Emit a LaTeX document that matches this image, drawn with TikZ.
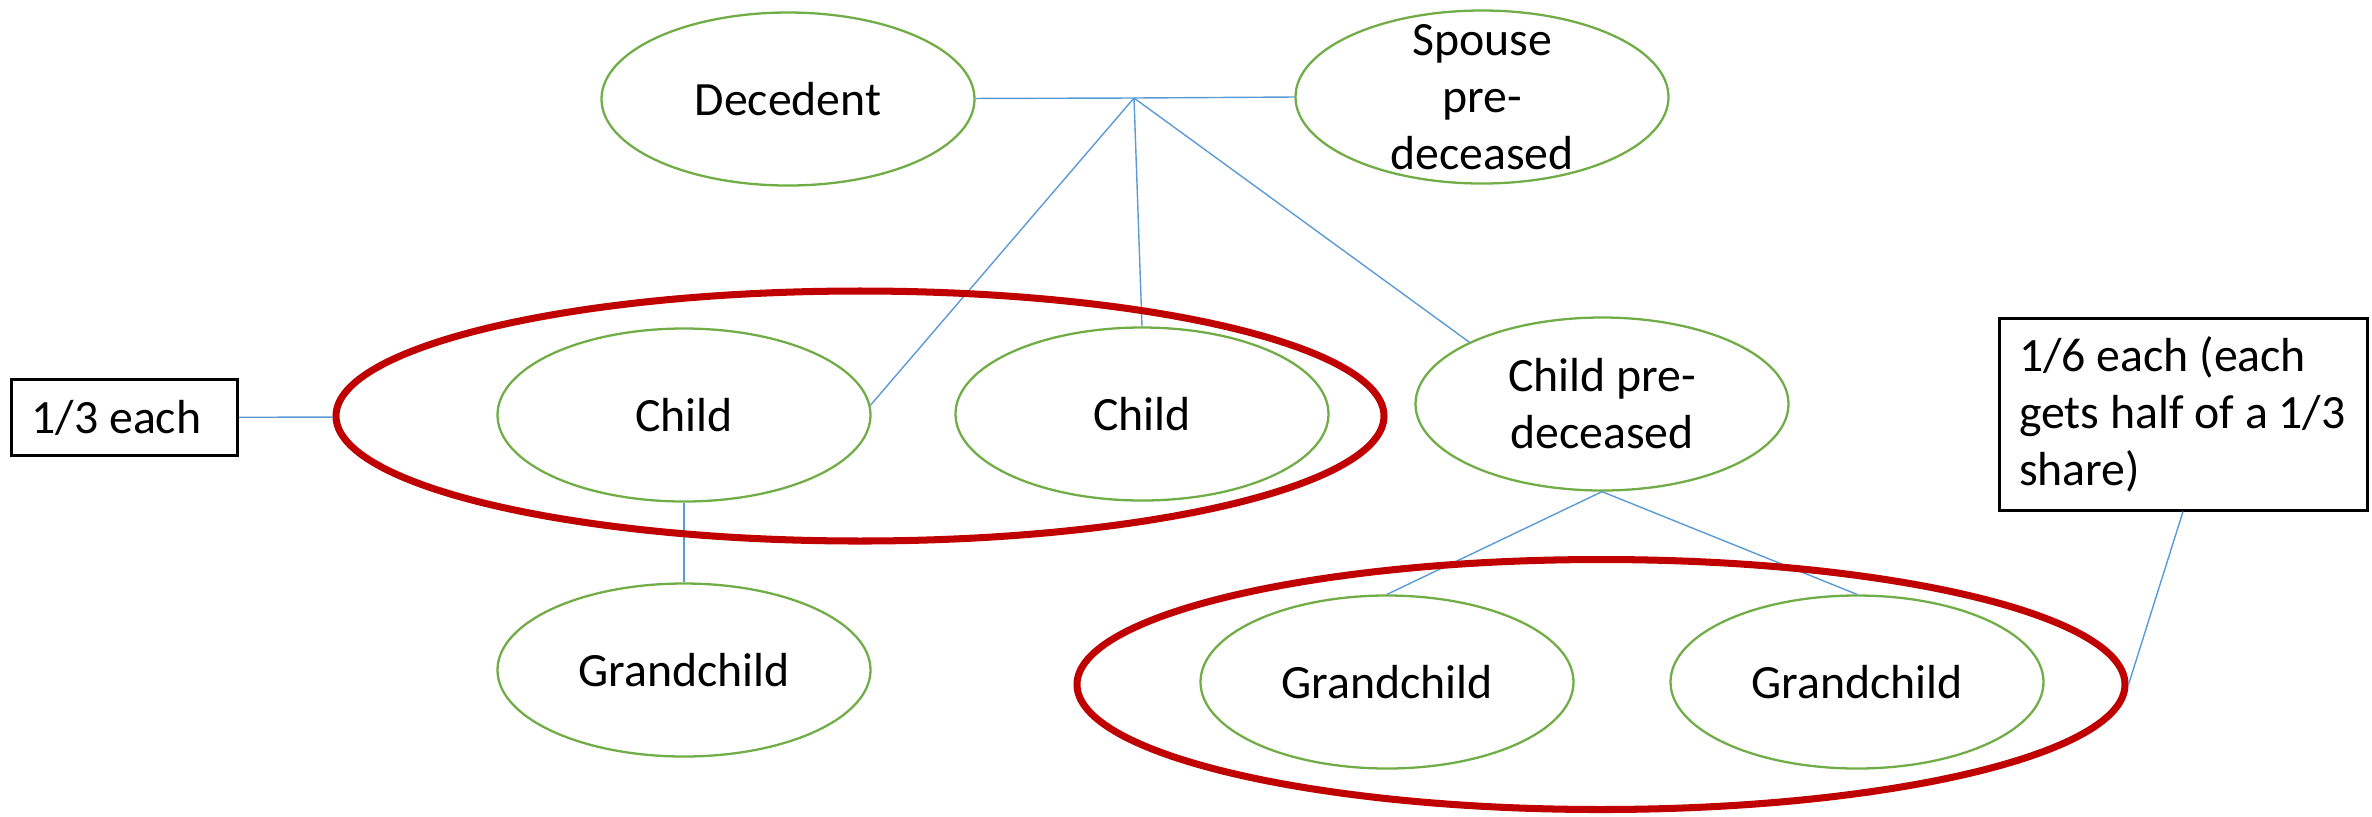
\documentclass[tikz,border=0pt]{standalone}
\usepackage{fontspec}
\setmainfont{Carlito}
\usetikzlibrary{shapes.geometric}
\definecolor{leafgreen}{HTML}{70AD47}
\definecolor{linkblue}{HTML}{5B9BD5}
\definecolor{sharered}{HTML}{C00000}

\begin{document}
\begin{tikzpicture}[font=\fontsize{13.6pt}{16.2pt}\selectfont,
  person node/.style={ellipse,draw=leafgreen,line width=0.65pt,minimum width=3.73cm,minimum height=1.73cm,inner sep=0pt,align=center},
  share node/.style={ellipse,draw=sharered,line width=2pt,minimum width=10.48cm,minimum height=2.5cm,inner sep=0pt},
  note node/.style={rectangle,draw,line width=0.85pt,inner xsep=0.2cm,align=flush left},
  link/.style={-,draw=linkblue,line width=0.4pt}]
  \useasboundingbox (0,0) rectangle (23.72,-8.16);

  \node[person node] (n0) at (7.88,-0.99) {Decedent};
  \node[person node,label={[align=center]center:Spouse\\pre-\\deceased}] (n1) at (14.82,-0.97) {};
  \node[person node] (n2) at (6.84,-4.15) {Child};
  \node[person node] (n3) at (11.42,-4.14) {Child};
  \node[person node] (n4) at (16.02,-4.04) {Child pre-\\deceased};
  \node[person node] (n5) at (6.84,-6.70) {Grandchild};
  \node[person node] (n6) at (13.87,-6.82) {Grandchild};
  \node[person node] (n7) at (18.57,-6.82) {Grandchild};
  \node[note node,text width=1.86cm,minimum height=0.76cm] (b0) at (1.245,-4.175) {1/3 each};
  \node[note node,text width=3.28cm,minimum height=1.92cm] (b1) at (21.83,-4.14) {1/6 each (each\\gets half of a 1/3\\share)};
  \coordinate (jn) at (11.34,-0.98);

 \path[] (n0) [link] edge (jn);
 \path[] (jn) [link] edge (n1.west);
 \path[] (jn) [link] edge (n2.3);
 \path[] (jn) [link] edge (n3.north);
 \path[] (jn) [link] edge (n4.155);
 \path[] (n2) [link] edge (n5);
 \path[] (n4.south) [link] edge (n6.north);
 \path[] (n4.south) [link] edge (n7.north);

  \node[share node] (s0) at (8.60,-4.16) {};
  \node[share node] (s1) at (16.01,-6.845) {};

 \path[] (b0) [link] edge (s0);
 \path[] (b1.south) [link] edge (s1.east);
\end{tikzpicture}
\end{document}
